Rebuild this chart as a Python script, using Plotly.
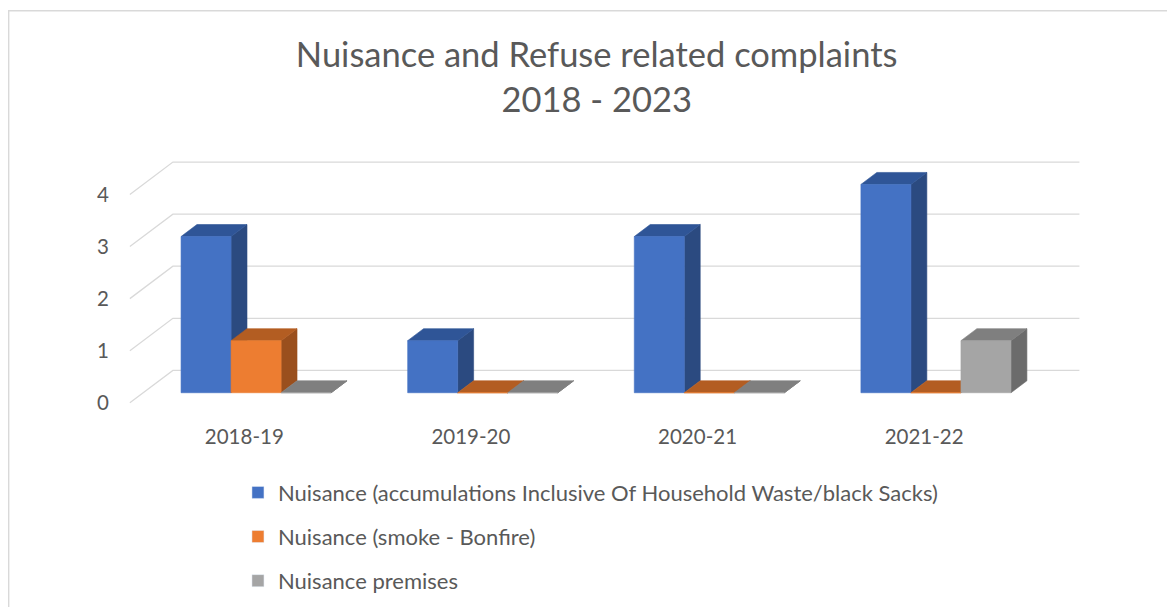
import plotly.graph_objects as go

# data
categories = ['2018-19', '2019-20', '2020-21', '2021-22']
series_names = [
    'Nuisance (accumulations Inclusive Of Household Waste/black Sacks)',
    'Nuisance (smoke - Bonfire)',
    'Nuisance premises',
]
accumulations = [3, 1, 3, 4]
smoke_bonfire = [1, 0, 0, 0]
premises = [0, 0, 0, 1]
y_ticks = [0, 1, 2, 3, 4]

# face colours: front, top, side
colors = [
    ('#4472C4', '#2F5597', '#2B4A80'),
    ('#ED7D31', '#B35D22', '#9A4F1D'),
    ('#A5A5A5', '#7F7F7F', '#6B6B6B'),
]

FONT = 'Lato'
TEXT = '#595959'
GRID = '#D9D9D9'

W, H = 1175, 607
OFF = 8  # the page body adds 8px around the figure
# pixel scale of the front plane
PX_X, X0_PX = 226.5, 250.0 - OFF   # px per category, px of category 0
PX_Y, Y0_PX = 52.2, 403.0 - OFF    # px per unit, px of value 0
# depth of the box (data units) and where the bars sit in it
DX, DY = 43 / PX_X, 32.5 / PX_Y
F0, F1 = 0.31, 0.68
BAR_W = 50 / PX_X
BAR_START = -0.363
WALL_L, WALL_R = -0.53, (1079 - 250.0) / PX_X
LABEL_SHIFT = -0.025  # category labels sit a little left of the bar groups

x_range = [-0.60, 3.72]
y_range = [-0.10, 4.72]
m_l = X0_PX + PX_X * x_range[0]
m_r = W - (X0_PX + PX_X * x_range[1])
m_b = H - (Y0_PX - PX_Y * y_range[0])
m_t = Y0_PX - PX_Y * y_range[1]
plot_w = W - m_l - m_r
plot_h = H - m_t - m_b


def paper_x(px):
    return (px - OFF - m_l) / plot_w


def paper_y(py):
    return 1 - (py - OFF - m_t) / plot_h


fig = go.Figure()

# back and side wall gridlines
gx, gy = [], []
for k in y_ticks:
    gx += [WALL_L, WALL_L + DX, WALL_R, None]
    gy += [k, k + DY, k + DY, None]
fig.add_trace(go.Scatter(x=gx, y=gy, mode='lines', line=dict(color=GRID, width=1.3),
                         hoverinfo='skip', showlegend=False))

values = [accumulations, smoke_bonfire, premises]
for s, vals in enumerate(values):
    front, top, side = colors[s]
    fx, fy, tx, ty, sx, sy = [], [], [], [], [], []
    for i, v in enumerate(vals):
        x0 = i + BAR_START + s * BAR_W
        x1 = x0 + BAR_W
        a, b = F0 * DX, F1 * DX
        c, d = F0 * DY, F1 * DY
        fx += [x0 + a, x1 + a, x1 + a, x0 + a, x0 + a, None]
        fy += [c, c, v + c, v + c, c, None]
        tx += [x0 + a, x1 + a, x1 + b, x0 + b, x0 + a, None]
        ty += [v + c, v + c, v + d, v + d, v + c, None]
        sx += [x1 + a, x1 + b, x1 + b, x1 + a, x1 + a, None]
        sy += [c, d, v + d, v + c, c, None]
    for px_, py_, col in [(sx, sy, side), (tx, ty, top), (fx, fy, front)]:
        fig.add_trace(go.Scatter(x=px_, y=py_, mode='lines', fill='toself', fillcolor=col,
                                 line=dict(color=col, width=0.6), hoverinfo='skip',
                                 showlegend=False))

# legend entries
for s, name in enumerate(series_names):
    fig.add_trace(go.Bar(x=[None], y=[None], name=name, marker_color=colors[s][0],
                         legendgroup=str(s)))

cat_pos = [i + LABEL_SHIFT for i in range(len(categories))]

fig.update_layout(
    width=W,
    height=H,
    margin=dict(l=m_l, r=m_r, t=m_t, b=m_b, autoexpand=False),
    paper_bgcolor='white',
    plot_bgcolor='white',
    font=dict(family=FONT, color=TEXT),
    title=dict(
        text='Nuisance and Refuse related complaints<br>2018 - 2023',
        x=0.501, xanchor='center',
        y=1 - 59 / H, yanchor='top',
        font=dict(family=FONT, size=34.5, color=TEXT),
    ),
    xaxis=dict(
        range=x_range, showgrid=False, zeroline=False, showline=False,
        tickvals=cat_pos, ticktext=categories, ticks='',
        tickfont=dict(size=20.5, color=TEXT), ticklabelstandoff=14,
    ),
    yaxis=dict(
        range=y_range, showgrid=False, zeroline=False, showline=False,
        tickvals=y_ticks, ticks='',
        tickfont=dict(size=20.5, color=TEXT), ticklabelstandoff=4,
    ),
    showlegend=True,
    legend=dict(
        x=paper_x(238), xanchor='left',
        y=paper_y(472), yanchor='top',
        orientation='v',
        font=dict(size=22, color=TEXT),
        tracegroupgap=12.5,
        bgcolor='rgba(0,0,0,0)',
    ),
    shapes=[dict(
        type='rect', xref='paper', yref='paper',
        x0=paper_x(8.8), x1=paper_x(1195), y0=paper_y(10), y1=paper_y(630),
        line=dict(color=GRID, width=1.5), fillcolor='rgba(0,0,0,0)', layer='below',
    )],
)

fig.write_html('out.html')
